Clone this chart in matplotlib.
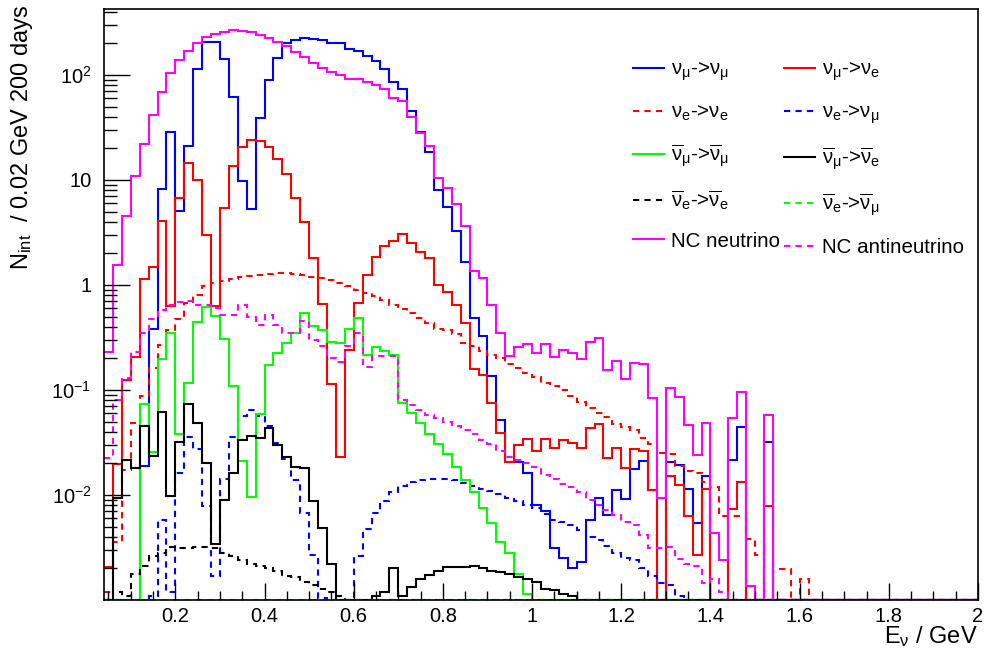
import numpy as np
import matplotlib
matplotlib.use("Agg")
import matplotlib.pyplot as plt
from matplotlib.ticker import FixedLocator, FixedFormatter, MultipleLocator, LogLocator, NullFormatter

plt.rcParams['font.family'] = ['Liberation Sans', 'DejaVu Sans']
plt.rcParams['mathtext.fontset'] = 'custom'
plt.rcParams['mathtext.rm'] = 'Liberation Sans'
plt.rcParams['mathtext.it'] = 'Liberation Sans:italic'
plt.rcParams['mathtext.bf'] = 'Liberation Sans:bold'

# histogram binning: 0.02 GeV bins from 0.04 to 2.0 GeV
edges = np.round(np.arange(0.04, 2.0001, 0.02), 4)
nbins = len(edges) - 1

# bin contents (bins after the last listed one are empty)
numu_numu = [0, 0, 0, 0, 0.0187, 0.38, 8.2, 28.8, 5.1, 21, 114, 207, 207, 142, 62, 9.8, 5.25, 39, 90, 144,
             200, 215, 223, 220, 215, 203, 200, 176, 171, 150, 135, 114, 86, 73, 45, 28.5, 18.6, 8.0, 5.5, 3.27,
             1.67, 0.48, 0.33, 0.136, 0.052, 0.0204, 0.0204, 0.0162, 0.008, 0.0071, 0.0031, 0.0025, 0.002, 0.0023, 0.0058, 0.0094, 0.0064, 0.0112, 0.0091, 0.0177,
             0.0212, 0.0112, 0, 0.0204, 0.0193, 0.0114, 0.0054, 0.0151, 0, 0, 0.0215, 0.044, 0, 0, 0.032]
numu_nue = [0.00205, 0.0196, 0.124, 0.207, 1.14, 1.49, 4.1, 0.63, 6.8, 14.4, 9.9, 3.0, 0.63, 5.4, 13.7, 20.7, 24, 23.5, 20.7, 15.7,
            11.3, 6.8, 4.0, 1.8, 0.66, 0.113, 0.023, 0.24, 0.68, 1.25, 1.86, 2.37, 2.6, 3.06, 2.53, 2.07, 1.8, 0.99, 0.85, 0.645,
            0.43, 0.158, 0.14, 0.0746, 0.039, 0.0207, 0.030, 0.034, 0.0263, 0.034, 0.0279, 0.0334, 0.031, 0.0279, 0.043, 0.0475, 0.0224, 0.0279, 0.018, 0.0274,
            0.0263, 0.0112, 0, 0.0151, 0.0125, 0.0063, 0.0027, 0.0115, 0, 0, 0.0073, 0.0133, 0, 0, 0.0078]
nue_nue = [0.0012, 0.0036, 0.0173, 0.048, 0.088, 0.162, 0.268, 0.375, 0.47, 0.67, 0.8, 0.98, 1.04, 1.09, 1.14, 1.2, 1.22, 1.25, 1.28, 1.29,
           1.29, 1.28, 1.24, 1.2, 1.17, 1.12, 1.04, 0.98, 0.9, 0.83, 0.78, 0.72, 0.645, 0.59, 0.537, 0.48, 0.43, 0.385, 0.37, 0.34,
           0.28, 0.265, 0.237, 0.215, 0.2, 0.177, 0.163, 0.146, 0.132, 0.117, 0.108, 0.101, 0.0877, 0.0776, 0.067, 0.061, 0.0557, 0.047, 0.0448, 0.0416,
           0.0347, 0.0304, 0.025, 0.0248, 0.019, 0.0169, 0.0163, 0.0134, 0.012, 0.0063, 0.0063, 0.0063, 0.0038, 0.0027, 0, 0.00196, 0.00196, 0, 0.0016]
nue_numu = [0, 0, 0, 0, 0, 0.0011, 0.0058, 0.0012, 0.0163, 0.0356, 0.0274, 0.0079, 0.0017, 0.0142, 0.0356, 0.0565, 0.065, 0.0565, 0.0458, 0.031,
            0.0218, 0.014, 0.0067, 0.0027, 0.00105, 0, 0, 0, 0.0026, 0.0047, 0.0067, 0.0088, 0.0106, 0.0122, 0.0134, 0.0139, 0.0141, 0.0141, 0.0141, 0.0139,
            0.013, 0.0122, 0.0114, 0.011, 0.0103, 0.0093, 0.0087, 0.008, 0.0075, 0.0066, 0.0058, 0.0055, 0.0052, 0.0046, 0.004, 0.0037, 0.0033, 0.0028, 0.0025, 0.0024,
            0.002, 0.0017, 0.00145, 0.0014, 0.0011]
anumu_anumu = [0, 0, 0, 0, 0.073, 0.0258, 0.196, 0.347, 0.038, 0.117, 0.44, 0.62, 0.507, 0.304, 0.109, 0.021, 0.0096, 0.0587, 0.173, 0.223,
               0.279, 0.347, 0.537, 0.407, 0.37, 0.288, 0.279, 0.38, 0.48, 0.215, 0.258, 0.237, 0.215, 0.0746, 0.06, 0.048, 0.0378, 0.0306, 0.0244, 0.0186,
               0.0139, 0.0107, 0.0075, 0.0054, 0.0036, 0.0028, 0.00177, 0.00114]
anumu_anue = [0, 0.0093, 0.0215, 0.018, 0.0454, 0.0237, 0.062, 0.0098, 0.032, 0.073, 0.0489, 0.020, 0.0034, 0.009, 0.0162, 0.0334, 0.0367, 0.0347, 0.043, 0.030,
              0.0232, 0.0186, 0.018, 0.0087, 0.0049, 0.0022, 0, 0, 0, 0, 0.0011, 0.0012, 0.002, 0.0011, 0.00134, 0.00157, 0.00173, 0.0019, 0.00205, 0.00205,
              0.00205, 0.0021, 0.002, 0.0019, 0.00185, 0.00178, 0.00166, 0.0016, 0.0015, 0.00128, 0.00124, 0.00114, 0.0011]
anue_anue = [0, 0.0012, 0.0011, 0.00175, 0.0021, 0.0026, 0.0028, 0.0032, 0.0031, 0.0031, 0.0032, 0.0032, 0.0031, 0.0028, 0.0026, 0.0024, 0.0022, 0.0021, 0.002, 0.0019,
             0.0017, 0.00166, 0.00148, 0.0014, 0.00128, 0.0012, 0.0011]
anue_anumu = [0]
nc_nu = [0.23, 1.55, 4.5, 11, 22, 42, 69, 105, 139, 171, 203, 232, 248, 259, 266, 262, 255, 242, 225, 207,
         188, 167, 147, 129, 117, 106, 100, 91.6, 91.6, 85, 80, 73, 61, 57, 40, 28, 21, 10.5, 8.3, 5.9,
         3.65, 1.36, 1.16, 0.645, 0.347, 0.212, 0.258, 0.274, 0.224, 0.274, 0.207, 0.24, 0.224, 0.197, 0.288, 0.31, 0.155, 0.19, 0.126, 0.182,
         0.175, 0.083, 0.0093, 0.105, 0.085, 0.046, 0.024, 0.048, 0.0043, 0.0024, 0.054, 0.0955, 0.00135, 0, 0.058]
nc_anu = [0.0224, 0.08, 0.13, 0.232, 0.347, 0.475, 0.58, 0.645, 0.69, 0.7, 0.645, 0.645, 0.61, 0.52, 0.52, 0.645, 0.5, 0.416, 0.52, 0.416,
          0.35, 0.347, 0.45, 0.3, 0.26, 0.2, 0.186, 0.265, 0.35, 0.167, 0.212, 0.212, 0.212, 0.08, 0.072, 0.065, 0.058, 0.0545, 0.05, 0.0457,
          0.0416, 0.0378, 0.0334, 0.0306, 0.0263, 0.0232, 0.0215, 0.02, 0.0186, 0.0155, 0.0142, 0.0128, 0.012, 0.0107, 0.009, 0.008, 0.0072, 0.0065, 0.0055, 0.0052,
          0.0042, 0.0031, 0.0031, 0.0032, 0.00245, 0.0022, 0.0021, 0.00145, 0.0016, 0.0012]

labels = [r'ν$_{\mathrm{μ}}$->ν$_{\mathrm{μ}}$',
          r'ν$_{\mathrm{μ}}$->ν$_{\mathrm{e}}$',
          r'ν$_{\mathrm{e}}$->ν$_{\mathrm{e}}$',
          r'ν$_{\mathrm{e}}$->ν$_{\mathrm{μ}}$',
          r'$\overline{\mathrm{ν}}_{\mathrm{μ}}$->$\overline{\mathrm{ν}}_{\mathrm{μ}}$',
          r'$\overline{\mathrm{ν}}_{\mathrm{μ}}$->$\overline{\mathrm{ν}}_{\mathrm{e}}$',
          r'$\overline{\mathrm{ν}}_{\mathrm{e}}$->$\overline{\mathrm{ν}}_{\mathrm{e}}$',
          r'$\overline{\mathrm{ν}}_{\mathrm{e}}$->$\overline{\mathrm{ν}}_{\mathrm{μ}}$',
          'NC neutrino',
          'NC antineutrino']
series = [numu_numu, numu_nue, nue_nue, nue_numu, anumu_anumu, anumu_anue, anue_anue, anue_anumu, nc_nu, nc_anu]
colors = ['#0000ff', '#ff0000', '#ff0000', '#0000ff', '#00ff00', '#000000', '#000000', '#00ff00', '#ff00ff', '#ff00ff']
dashed = [False, False, True, True, False, False, True, True, False, True]

ymin, ymax = 1e-3, 425

fig = plt.figure(figsize=(9.86, 6.55), dpi=100)
ax = fig.add_axes([104 / 986, 1 - 600 / 655, 874 / 986, 591 / 655])

handles = []
for vals, col, dsh, lab in zip(series, colors, dashed, labels):
    h = np.zeros(nbins)
    h[:len(vals)] = vals
    h = np.where(h > 0, h, ymin)   # empty bins sit on the axis, as in ROOT
    ls = (0, (3, 2.5)) if dsh else '-'
    st = ax.stairs(h, edges, baseline=None, color=col, lw=1.5, linestyle=ls, label=lab)
    handles.append(st)

ax.set_yscale('log')
ax.set_xlim(0.04, 2.0)
ax.set_ylim(ymin, ymax)

ax.xaxis.set_major_locator(FixedLocator([0.2, 0.4, 0.6, 0.8, 1.0, 1.2, 1.4, 1.6, 1.8, 2.0]))
ax.xaxis.set_major_formatter(FixedFormatter(['0.2', '0.4', '0.6', '0.8', '1', '1.2', '1.4', '1.6', '1.8', '2']))
ax.xaxis.set_minor_locator(MultipleLocator(0.05))
ax.yaxis.set_major_locator(FixedLocator([1e-2, 1e-1, 1, 10, 100]))
ax.yaxis.set_major_formatter(FixedFormatter([r'10$^{-2}$', r'10$^{-1}$', '1', '10', r'10$^{2}$']))
ax.yaxis.set_minor_locator(LogLocator(base=10, subs=np.arange(2, 10), numticks=20))
ax.yaxis.set_minor_formatter(NullFormatter())

ax.tick_params(axis='both', which='both', direction='in', top=False, right=False, labelsize=14.5, width=1.0)
ax.tick_params(axis='y', which='major', length=19, pad=9)
ax.tick_params(axis='y', which='minor', length=9.5)
ax.tick_params(axis='x', which='major', length=12, pad=5)
ax.tick_params(axis='x', which='minor', length=6.5)
for sp in ax.spines.values():
    sp.set_linewidth(1.2)

# legend is filled row by row in the original (two columns)
order = [0, 2, 4, 6, 8, 1, 3, 5, 7, 9]
leg = ax.legend([handles[i] for i in order], [labels[i] for i in order],
                ncol=2, frameon=False, fontsize=14.8, loc='upper left',
                bbox_to_anchor=(633 / 986, 1 - 60 / 655), bbox_transform=fig.transFigure,
                borderaxespad=0, borderpad=0, handlelength=1.5, handletextpad=0.35,
                columnspacing=0.2, labelspacing=0.95)

fig.text(22 / 986, 1 - 5 / 655, r'N$_{\mathrm{int}}$  / 0.02 GeV 200 days', rotation=90,
         ha='center', va='top', fontsize=17)
fig.text(978 / 986, 1 - 637 / 655, r'E$_{\mathrm{ν}}$ / GeV', ha='right', va='center', fontsize=17)

fig.savefig('out.png', dpi=100)
